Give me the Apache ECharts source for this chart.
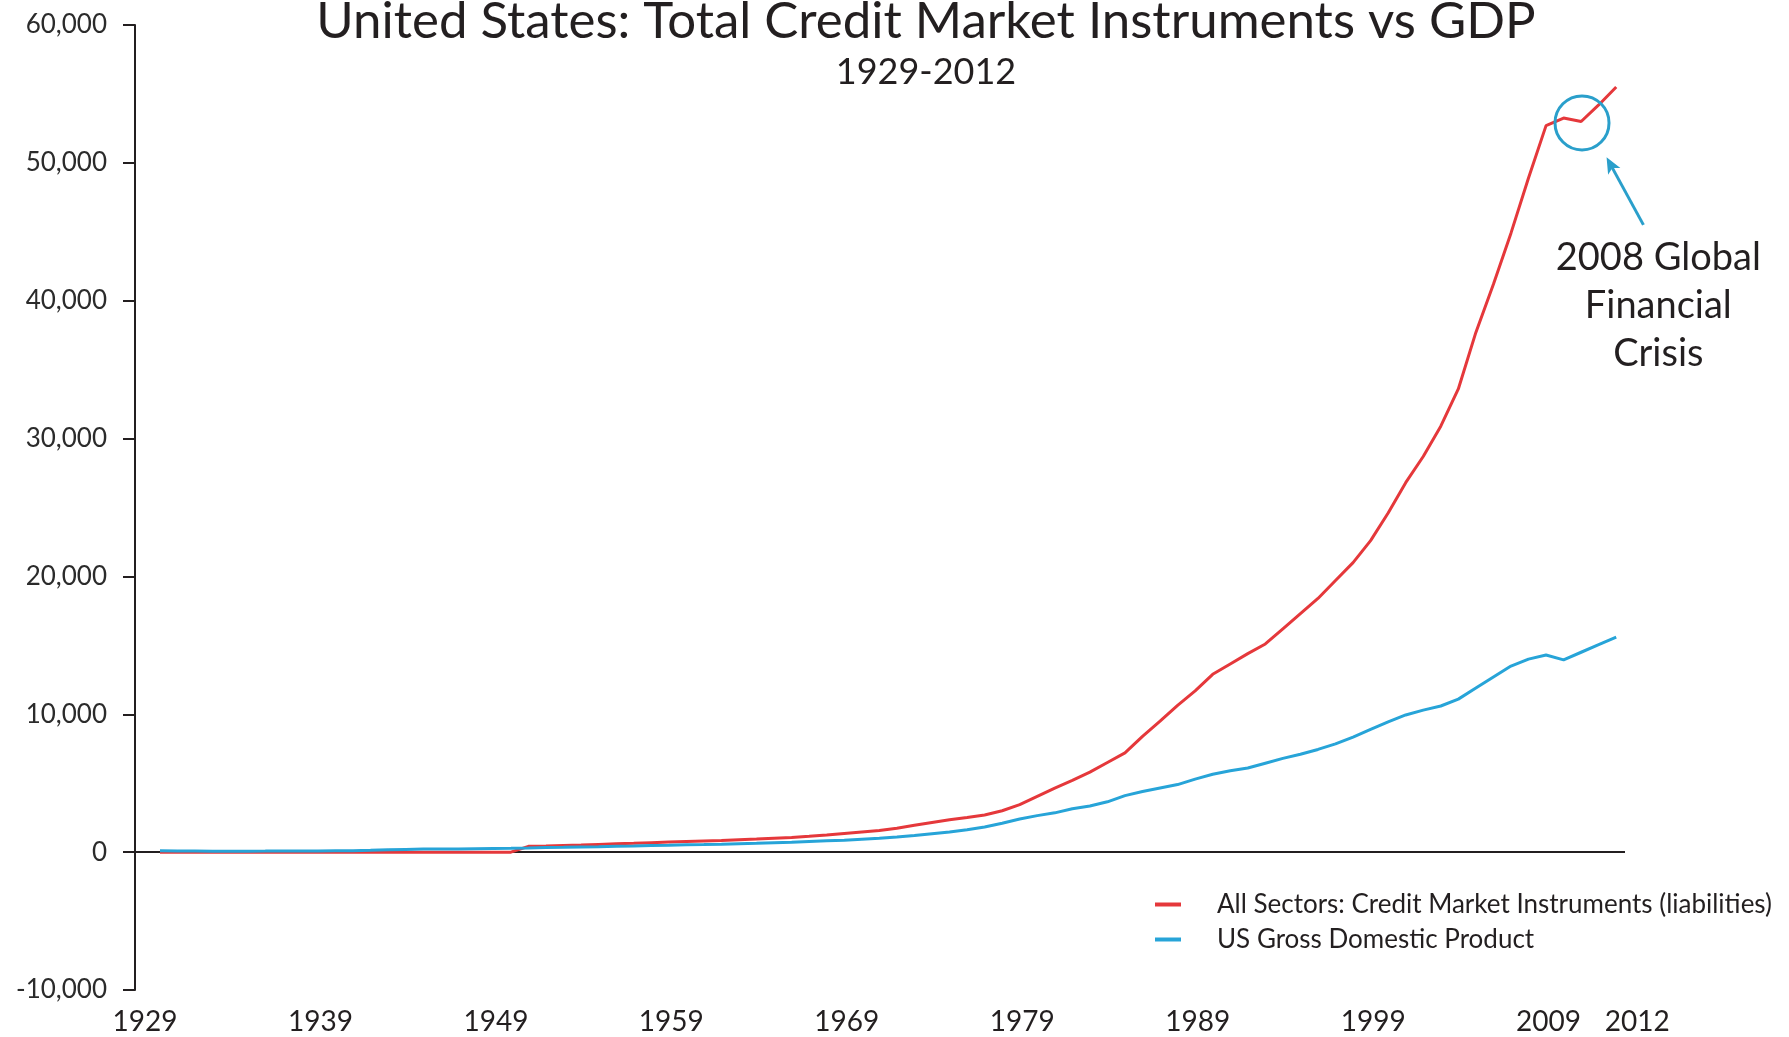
<!DOCTYPE html>
<html>
<head>
<meta charset="utf-8">
<title>United States: Total Credit Market Instruments vs GDP</title>
<script src="https://cdn.jsdelivr.net/npm/echarts@6/dist/echarts.min.js"></script>
<style>
  html, body { margin: 0; padding: 0; background: #ffffff; }
  #chart { width: 1789px; height: 1037px; }
</style>
</head>
<body>
<div id="chart"></div>
<script>
// Annual series, billions of US dollars, 1929-2012
const firstYear = 1929;
const lastYear = 2012;

const creditLiabilities = [
  0, 0, 0, 0, 0, 0, 0, 0, 0, 0, 0,                 // 1929-1939
  0, 0, 0, 0, 0, 0, 0, 0, 0, 0,                    // 1940-1949
  420, 450, 490, 520, 560, 600, 640, 690, 730, 770,            // 1950s
  810, 850, 900, 950, 1010, 1070, 1150, 1240, 1350, 1460,      // 1960s
  1570, 1740, 1950, 2150, 2350, 2520, 2700, 3000, 3450, 4050,  // 1970s
  4650, 5200, 5800, 6500, 7200, 8400, 9500, 10650, 11700, 12900,        // 1980s
  13650, 14400, 15100, 16200, 17300, 18400, 19700, 21000, 22600, 24600, // 1990s
  26800, 28700, 30900, 33600, 37700, 41200, 44900, 48900, 52700, 53250, // 2000s
  53000, 54200, 55500                                                    // 2010-2012
];

const grossDomesticProduct = [
  100, 90, 80, 60, 60, 70, 75, 85, 90, 90, 95,      // 1929-1939
  100, 130, 165, 200, 220, 225, 230, 250, 270, 280, // 1940s
  300, 330, 350, 375, 390, 420, 445, 480, 500, 530, // 1950s
  550, 575, 610, 640, 680, 720, 770, 820, 870, 940, // 1960s
  1010, 1100, 1200, 1330, 1460, 1620, 1830, 2100, 2400, 2650, // 1970s
  2850, 3150, 3350, 3650, 4100, 4400, 4650, 4900, 5300, 5650, // 1980s
  5900, 6100, 6450, 6800, 7100, 7450, 7850, 8350, 8900, 9450, // 1990s
  9950, 10300, 10600, 11100, 11900, 12700, 13500, 14000, 14300, 13950, // 2000s
  14500, 15050, 15600                                                  // 2010-2012
];

const seriesNames = [
  'All Sectors: Credit Market Instruments (liabilities)',
  'US Gross Domestic Product'
];

const decadeTicks = [1929, 1939, 1949, 1959, 1969, 1979, 1989, 1999, 2009];
const endTick = [2012];
const valueTicks = { min: -10000, max: 60000, step: 10000 };

// Crisis callout, in data units: ring around the dip, arrow pointing at it
const crisisRing = { center: [2010.05, 52900], radius: 27 };
const crisisArrow = { from: [2013.55, 45500], to: [2011.45, 50400] };
const crisisText = { at: [2014.4, 39600], lines: ['2008 Global', 'Financial', 'Crisis'] };

const years = [];
for (let y = firstYear; y <= lastYear; y++) years.push(y);
const pairs = (vals) => years.map((y, i) => [y, vals[i]]);

const ink = '#231f20';
const red = '#e5383b';
const blue = '#27a4d8';
const calloutBlue = '#2a9fcb';
const font = 'Lato, "Open Sans", sans-serif';

const xRange = { min: 1927.575, max: 2012.5 };
const yearLabel = { fontSize: 28, lineHeight: 28, color: ink, fontFamily: font };

const chart = echarts.init(document.getElementById('chart'), null, { renderer: 'canvas' });

chart.setOption({
  backgroundColor: '#ffffff',
  animation: false,
  textStyle: { fontFamily: font },
  title: {
    text: 'United States: Total Credit Market Instruments vs GDP',
    subtext: '1929-2012',
    left: 921,
    top: -9,
    textAlign: 'center',
    itemGap: 7,
    textStyle: { fontFamily: font, fontSize: 51, fontWeight: 'normal', color: ink },
    subtextStyle: { fontFamily: font, fontSize: 36, color: ink }
  },
  legend: {
    orient: 'vertical',
    left: 1155,
    top: 891,
    padding: 0,
    itemWidth: 26,
    itemHeight: 4,
    itemGap: 8,
    icon: 'rect',
    data: seriesNames,
    textStyle: { fontFamily: font, fontSize: 26, color: ink, lineHeight: 27, padding: [0, 0, 0, 31] }
  },
  grid: { left: 135, right: 164, top: 25, bottom: 47, containLabel: false },
  xAxis: [
    {
      // data axis; carries the decade labels
      type: 'value',
      position: 'bottom',
      min: xRange.min,
      max: xRange.max,
      axisLine: { show: false, onZero: false },
      axisTick: { show: false },
      splitLine: { show: false },
      axisLabel: Object.assign({
        customValues: decadeTicks,
        margin: 18,
        padding: [0, 30, 0, 0],
        formatter: (v) => String(v)
      }, yearLabel)
    },
    {
      // same scale, only the closing year label
      type: 'value',
      position: 'bottom',
      min: xRange.min,
      max: xRange.max,
      axisLine: { show: false, onZero: false },
      axisTick: { show: false },
      splitLine: { show: false },
      axisLabel: Object.assign({
        customValues: endTick,
        margin: 18,
        formatter: (v) => '{end|' + v + '}',
        rich: { end: Object.assign({ padding: [0, 0, 0, 42] }, yearLabel) }
      }, yearLabel)
    }
  ],
  yAxis: {
    type: 'value',
    min: valueTicks.min,
    max: valueTicks.max,
    interval: valueTicks.step,
    axisLine: { show: true, onZero: false, lineStyle: { color: ink, width: 2 } },
    axisTick: { show: true, length: 12, lineStyle: { color: ink, width: 2 } },
    splitLine: { show: false },
    axisLabel: {
      margin: 28,
      fontSize: 26,
      color: '#2b2b2b',
      formatter: (v) => v.toLocaleString('en-US')
    }
  },
  series: [
    {
      name: seriesNames[0],
      type: 'line',
      xAxisIndex: 0,
      data: pairs(creditLiabilities),
      showSymbol: false,
      symbol: 'none',
      color: red,
      lineStyle: { color: red, width: 3 },
      z: 3,
      markLine: {
        silent: true,
        symbol: 'none',
        label: { show: false },
        lineStyle: { color: ink, width: 2, type: 'solid' },
        data: [{ yAxis: 0 }],
        z: 2
      }
    },
    {
      name: seriesNames[1],
      type: 'line',
      xAxisIndex: 0,
      data: pairs(grossDomesticProduct),
      showSymbol: false,
      symbol: 'none',
      color: blue,
      lineStyle: { color: blue, width: 3 },
      z: 4
    }
  ]
});

// Callout drawn from data units so it stays tied to the axes
function drawCallout() {
  const toPx = (pt) => chart.convertToPixel({ xAxisIndex: 0, yAxisIndex: 0 }, pt);
  const c = toPx(crisisRing.center);
  const a0 = toPx(crisisArrow.from);
  const a1 = toPx(crisisArrow.to);
  const dx = a1[0] - a0[0], dy = a1[1] - a0[1];
  const len = Math.hypot(dx, dy);
  const ux = dx / len, uy = dy / len;
  const nx = -uy, ny = ux;
  const headLen = 16, headHalf = 7;
  const base = [a1[0] - ux * headLen, a1[1] - uy * headLen];
  const t = toPx(crisisText.at);
  const lineGap = 48;

  const elements = [
    {
      type: 'circle',
      shape: { cx: c[0], cy: c[1], r: crisisRing.radius },
      style: { fill: 'none', stroke: calloutBlue, lineWidth: 3 },
      z: 10
    },
    {
      type: 'line',
      shape: { x1: a0[0], y1: a0[1], x2: base[0] + ux * 4, y2: base[1] + uy * 4 },
      style: { stroke: calloutBlue, lineWidth: 3 },
      z: 10
    },
    {
      type: 'polygon',
      shape: {
        points: [
          a1,
          [base[0] + nx * headHalf, base[1] + ny * headHalf],
          [base[0] + ux * 4, base[1] + uy * 4],
          [base[0] - nx * headHalf, base[1] - ny * headHalf]
        ]
      },
      style: { fill: calloutBlue },
      z: 10
    }
  ];
  crisisText.lines.forEach((line, i) => {
    elements.push({
      type: 'text',
      x: t[0],
      y: t[1] + (i - 1) * lineGap,
      style: {
        text: line,
        fill: ink,
        font: '38px ' + font,
        align: 'center',
        verticalAlign: 'middle'
      },
      z: 10
    });
  });
  chart.setOption({ graphic: elements });
}
drawCallout();
</script>
</body>
</html>
